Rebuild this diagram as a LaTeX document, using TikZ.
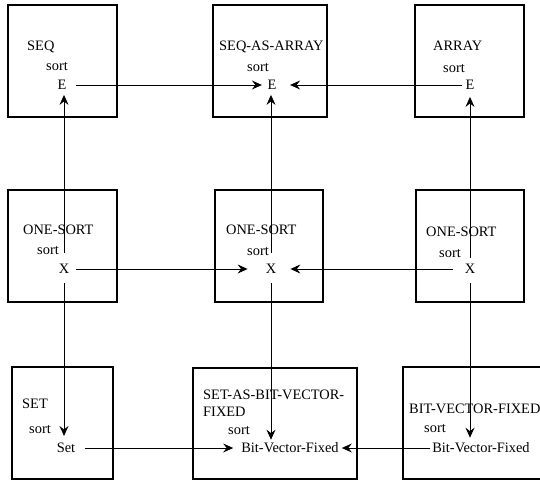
\documentclass[tikz,border=0pt]{standalone}
\usepackage{fontspec}
\setmainfont{Liberation Serif}
\usetikzlibrary{arrows.meta}

\begin{document}
\begin{tikzpicture}[x=1pt,y=-1pt,>={Stealth[length=10pt,width=9pt,inset=3.5pt]},
  box/.style={draw,line width=1.1pt,inner sep=0pt,minimum height=112pt},
  lbl/.style={inner sep=0pt,anchor=base west,font=\fontsize{14.4}{17}\selectfont},
  var/.style={inner sep=0pt,font=\fontsize{14.4}{17}\selectfont},
  link/.style={->,line width=0.9pt}]
  \useasboundingbox (0,0) rectangle (540,481);
  % boxes
  \node[box,minimum width=109pt] (seqBox) at (62.5,61) {};
  \node[box,minimum width=114pt] (saBox) at (270,61) {};
  \node[box,minimum width=109pt] (arrBox) at (469.5,61) {};
  \node[box,minimum width=109pt] (oneL) at (62.5,246) {};
  \node[box,minimum width=108pt] (oneM) at (269,246) {};
  \node[box,minimum width=108pt] (oneR) at (470,246) {};
  \node[box,minimum width=101pt] (setBox) at (62.5,423) {};
  \node[box,minimum width=164pt,minimum height=111pt] (sbvBox) at (275,423.5) {};
  \node[box,minimum width=147pt] (bvBox) at (476.5,423) {};
  % titles
  \node[lbl] (seqName) at (27,51) {SEQ};
  \node[lbl] (saName) at (219,51) {SEQ-AS-ARRAY};
  \node[lbl] (arrName) at (433,51) {ARRAY};
  \node[lbl] (oneLName) at (23,234) {ONE-SORT};
  \node[lbl] (oneMName) at (226,234) {ONE-SORT};
  \node[lbl] (oneRName) at (426,236) {ONE-SORT};
  \node[lbl] (setName) at (22,408) {SET};
  \node[lbl,anchor=north west,align=left] (sbvName) at (203,389.5) {SET-AS-BIT-VECTOR-\\FIXED};
  \node[lbl] (bvName) at (409,413) {BIT-VECTOR-FIXED};
  % sort keywords
  \node[lbl] (seqSort) at (46,71) {sort};
  \node[lbl] (saSort) at (247,72) {sort};
  \node[lbl] (arrSort) at (443,73) {sort};
  \node[lbl] (oneLSort) at (37,254) {sort};
  \node[lbl] (oneMSort) at (247,255) {sort};
  \node[lbl] (oneRSort) at (439,257) {sort};
  \node[lbl] (setSort) at (29,433) {sort};
  \node[lbl] (sbvSort) at (228,434) {sort};
  \node[lbl] (bvSort) at (424,432) {sort};
  % sorts
  \node[var] (eSeq) at (62,85) {E};
  \node[var] (eSA) at (272,85) {E};
  \node[var] (eArr) at (470,85) {E};
  \node[var] (xL) at (64,269) {X};
  \node[var] (xM) at (271,269) {X};
  \node[var] (xR) at (470,269) {X};
  \node[var] (setVar) at (66,448) {Set};
  \node[var] (bvM) at (290,448) {Bit-Vector-Fixed};
  \node[var] (bvR) at (481,448) {Bit-Vector-Fixed};
  % horizontal links
  \draw[link,shorten <=9.5pt,shorten >=5.5pt] (eSeq) -- (eSA);
  \draw[link,shorten <=3.5pt,shorten >=13.5pt] (eArr) -- (eSA);
  \draw[link,shorten <=7pt,shorten >=18pt] (xL) -- (xM);
  \draw[link,shorten <=12pt,shorten >=14pt] (xR) -- (xM);
  \draw[link,shorten <=10pt,shorten >=8pt] (setVar) -- (bvM);
  \draw[link,shorten <=2pt,shorten >=3pt] (bvR) -- (bvM);
  % vertical links
  \draw[link,shorten <=11pt,shorten >=5pt] (xL.north) -- (xL.north |- eSeq.south);
  \draw[link,shorten <=11pt,shorten >=5pt] (xM.north) -- (xM.north |- eSA.south);
  \draw[link,shorten <=6pt,shorten >=7pt] (xR.north) -- (xR.north |- eArr.south);
  \draw[link,shorten <=9.4pt,shorten >=7pt] (xL.south) -- (xL.south |- setVar.north);
  \draw[link,shorten <=9.4pt,shorten >=3pt] (xM.south) -- (xM.south |- bvM.north);
  \draw[link,shorten <=9.4pt,shorten >=5pt] (xR.south) -- (xR.south |- bvR.north);
\end{tikzpicture}
\end{document}
